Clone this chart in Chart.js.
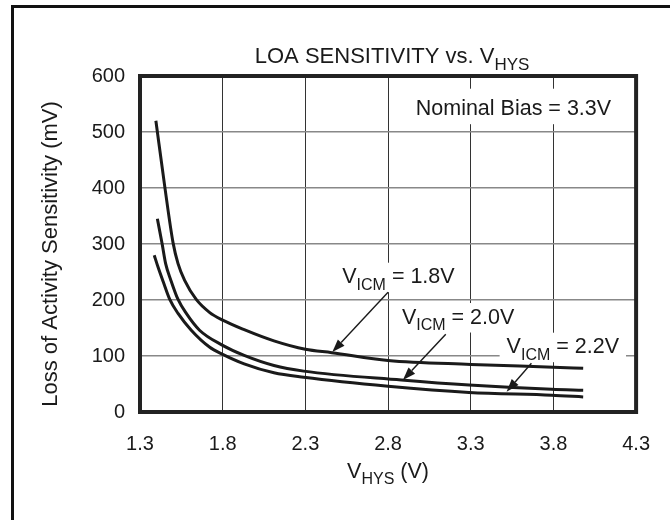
<!DOCTYPE html>
<html>
<head>
<meta charset="utf-8">
<script src="https://cdn.jsdelivr.net/npm/chart.js@4.4.1/dist/chart.umd.min.js"></script>
<style>
  html, body { margin: 0; padding: 0; background: #fff; }
  #wrap { position: relative; width: 670px; height: 520px; overflow: hidden; }
  #frame { position: absolute; left: 11px; top: 5px; width: 700px; height: 600px;
           border-left: 3px solid #111; border-top: 3px solid #111; }
  canvas { position: absolute; left: 0; top: 0; }
</style>
</head>
<body>
<div id="wrap">
  <div id="frame"></div>
  <canvas id="chart" width="670" height="520"></canvas>
</div>
<script>
// ── Data ───────────────────────────────────────────────
const X_TICKS = [1.3, 1.8, 2.3, 2.8, 3.3, 3.8, 4.3];
const Y_TICKS = [0, 100, 200, 300, 400, 500, 600];

const vhys18 = [1.396, 1.45, 1.50, 1.53, 1.57, 1.64, 1.72, 1.80, 1.93, 2.11, 2.30, 2.46, 2.80, 3.30, 3.80, 3.98];
const loa18  = [520,   402,  302,  265,  235,  201,  178,  164,  147,  127,  112,  106,  92,   85,   80,   78];

const vhys20 = [1.405, 1.434, 1.455, 1.487, 1.53, 1.58, 1.66, 1.80, 1.93, 2.11, 2.29, 2.88, 3.29, 3.79, 3.98];
const loa20  = [345,   300,   265,   235,   201,  176,  146,  119,  101,  83,   73,   57,   48,   40.5, 39];

const vhys22 = [1.386, 1.41, 1.44, 1.48, 1.53, 1.61, 1.72, 1.80, 1.93, 2.11, 2.29, 2.80, 3.29, 3.79, 3.98];
const loa22  = [280,   258,  233,  201,  176,  146,  116,  103,  86,   70,   62,   46,   35,   30,   27];

// annotation text, placed in data units (x, y = baseline), arrows from -> tip
const NOTES = [
  { parts: [["V"], ["ICM", 1], [" = 1.8V"]], x: 2.523, y: 230, from: [2.80, 214], tip: [2.463, 107] },
  { parts: [["V"], ["ICM", 1], [" = 2.0V"]], x: 2.884, y: 158, from: [3.149, 139], tip: [2.890, 57] },
  { parts: [["V"], ["ICM", 1], [" = 2.2V"]], x: 3.517, y: 105, from: [3.667, 87], tip: [3.517, 36] },
];
const BIAS_NOTE = "Nominal Bias = 3.3V";

const FONT = '"Liberation Sans", Arial, Helvetica, sans-serif';
const INK = "#1a1a1a";

function pts(xs, ys) { return xs.map((x, i) => ({ x, y: ys[i] })); }

function ds(label, data) {
  return {
    label, data,
    borderColor: INK,
    borderWidth: 3,
    pointRadius: 0,
    fill: false,
    cubicInterpolationMode: "monotone",
  };
}

// ── Text helpers ──────────────────────────────────────
function partsWidth(ctx, parts, size) {
  let w = 0;
  parts.forEach(([t, sub]) => {
    ctx.font = (sub ? Math.round(size * 0.75) : size) + "px " + FONT;
    w += ctx.measureText(t).width;
  });
  return w;
}
function drawParts(ctx, parts, x, y, size) {
  ctx.textAlign = "left";
  ctx.textBaseline = "alphabetic";
  ctx.fillStyle = INK;
  parts.forEach(([t, sub]) => {
    ctx.font = (sub ? Math.round(size * 0.75) : size) + "px " + FONT;
    ctx.fillText(t, x, sub ? y + size * 0.3 : y);
    x += ctx.measureText(t).width;
  });
}
function arrow(ctx, x1, y1, x2, y2) {
  const a = Math.atan2(y2 - y1, x2 - x1), L = 13, W = 4.5;
  const bx = x2 - L * Math.cos(a), by = y2 - L * Math.sin(a);
  ctx.strokeStyle = INK; ctx.lineWidth = 1.4;
  ctx.beginPath(); ctx.moveTo(x1, y1); ctx.lineTo(bx, by); ctx.stroke();
  ctx.fillStyle = INK;
  ctx.beginPath();
  ctx.moveTo(x2, y2);
  ctx.lineTo(bx + W * Math.sin(a), by - W * Math.cos(a));
  ctx.lineTo(bx - W * Math.sin(a), by + W * Math.cos(a));
  ctx.closePath(); ctx.fill();
}

// ── Decorations plugin ───────────────────────────────
const SZ_TICK = 20, SZ_NOTE = 21.5, SZ_TITLE = 22, SZ_AXIS = 21.5;
const deco = {
  id: "deco",
  beforeDatasetsDraw(chart) {
    const ctx = chart.ctx, xs = chart.scales.x, ys = chart.scales.y;
    ctx.save();
    ctx.fillStyle = "#fff";
    NOTES.forEach(n => {
      const w = partsWidth(ctx, n.parts, SZ_NOTE);
      const x = xs.getPixelForValue(n.x), y = ys.getPixelForValue(n.y);
      ctx.fillRect(x - 7, y - SZ_NOTE + 1, w + 14, SZ_NOTE + 8);
    });
    ctx.font = SZ_NOTE + "px " + FONT;
    const bw = ctx.measureText(BIAS_NOTE).width;
    const bx = xs.getPixelForValue(4.149), by = ys.getPixelForValue(530);
    ctx.fillRect(bx - bw - 6, by - SZ_NOTE - 5, bw + 12, SZ_NOTE + 14);
    ctx.restore();
  },
  afterDraw(chart) {
    const ctx = chart.ctx, a = chart.chartArea;
    const xs = chart.scales.x, ys = chart.scales.y;
    ctx.save();

    NOTES.forEach(n => {
      drawParts(ctx, n.parts, xs.getPixelForValue(n.x), ys.getPixelForValue(n.y), SZ_NOTE);
      arrow(ctx, xs.getPixelForValue(n.from[0]), ys.getPixelForValue(n.from[1]),
                 xs.getPixelForValue(n.tip[0]),  ys.getPixelForValue(n.tip[1]));
    });

    ctx.font = SZ_NOTE + "px " + FONT;
    ctx.fillStyle = INK;
    ctx.textAlign = "right";
    ctx.fillText(BIAS_NOTE, xs.getPixelForValue(4.149), ys.getPixelForValue(530));

    // plot frame
    ctx.strokeStyle = "#222";
    ctx.lineWidth = 4;
    ctx.strokeRect(a.left, a.top, a.right - a.left, a.bottom - a.top);

    // chart title
    const title = [["LOA SENSITIVITY vs. V"], ["HYS", 1]];
    const cx = (a.left + a.right) / 2 + 4;
    let tw = partsWidth(ctx, title, SZ_TITLE);
    drawParts(ctx, title, cx - tw / 2, a.top - 13, SZ_TITLE);

    // x axis title
    const xt = [["V"], ["HYS", 1], [" (V)"]];
    tw = partsWidth(ctx, xt, SZ_AXIS);
    drawParts(ctx, xt, (a.left + a.right) / 2 - tw / 2, a.bottom + 66, SZ_AXIS);

    // y axis title
    ctx.translate(57, (a.top + a.bottom) / 2 + 10);
    ctx.rotate(-Math.PI / 2);
    ctx.font = SZ_TITLE + "px " + FONT;
    ctx.textAlign = "center";
    ctx.fillStyle = INK;
    ctx.fillText("Loss of Activity Sensitivity (mV)", 0, 0);
    ctx.restore();
  }
};

new Chart(document.getElementById("chart"), {
  type: "line",
  data: {
    datasets: [
      ds("VICM = 1.8V", pts(vhys18, loa18)),
      ds("VICM = 2.0V", pts(vhys20, loa20)),
      ds("VICM = 2.2V", pts(vhys22, loa22)),
    ]
  },
  options: {
    responsive: false,
    animation: false,
    layout: { padding: { left: 0, top: 76, right: 32, bottom: 0 } },
    plugins: { legend: { display: false }, tooltip: { enabled: false } },
    scales: {
      x: {
        type: "linear",
        min: X_TICKS[0], max: X_TICKS[X_TICKS.length - 1],
        afterBuildTicks: s => { s.ticks = X_TICKS.map(v => ({ value: v })); },
        afterFit: s => { s.height = 108; },
        border: { display: false },
        grid: { color: "#333", lineWidth: 1, drawTicks: false },
        ticks: { padding: 20, color: INK, font: { family: FONT, size: SZ_TICK },
                 callback: v => v.toFixed(1) }
      },
      y: {
        min: Y_TICKS[0], max: Y_TICKS[Y_TICKS.length - 1],
        afterBuildTicks: s => { s.ticks = Y_TICKS.map(v => ({ value: v })); },
        afterFit: s => { s.width = 140; },
        border: { display: false },
        grid: { color: "#888", lineWidth: 1.5, drawTicks: false },
        ticks: { padding: 15, color: INK, font: { family: FONT, size: SZ_TICK } }
      }
    }
  },
  plugins: [deco]
});
</script>
</body>
</html>
